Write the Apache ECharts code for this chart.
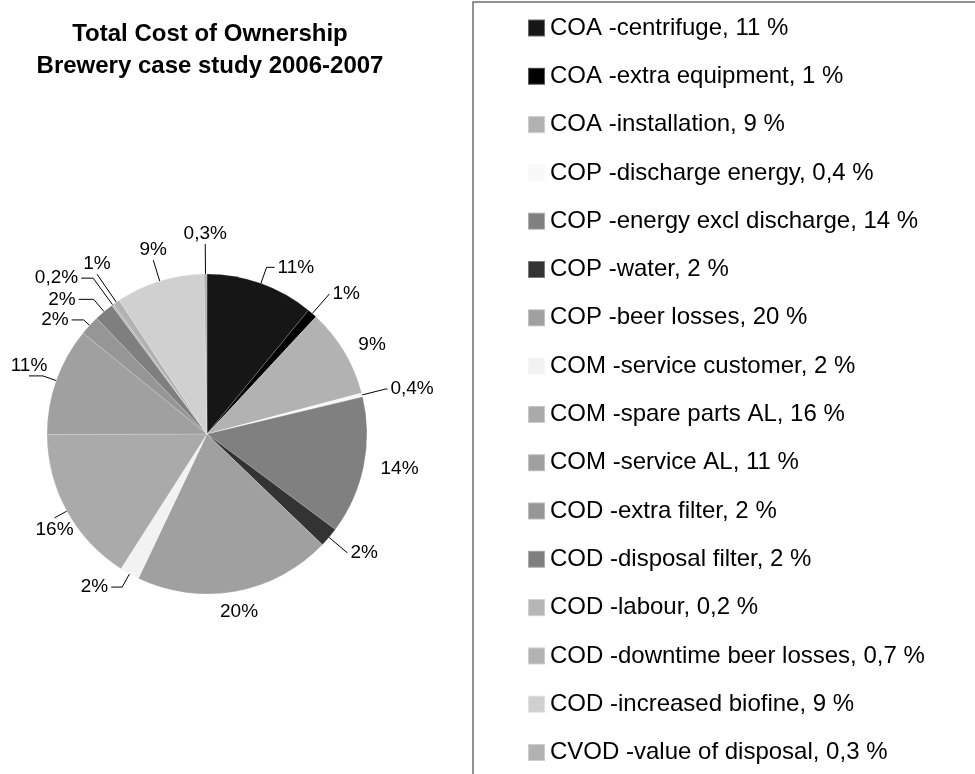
<!DOCTYPE html>
<html>
<head>
<meta charset="utf-8">
<title>Total Cost of Ownership</title>
<script src="https://cdn.jsdelivr.net/npm/echarts@6/dist/echarts.min.js"></script>
<style>
  html, body { margin: 0; padding: 0; background: #fff; }
  #chart { width: 975px; height: 774px; }
</style>
</head>
<body>
<div id="chart"></div>
<script>
// Cost categories and their share of total cost of ownership (%)
const categories = [
  'COA -centrifuge',
  'COA -extra equipment',
  'COA -installation',
  'COP -discharge energy',
  'COP -energy excl discharge',
  'COP -water',
  'COP -beer losses',
  'COM -service customer',
  'COM -spare parts AL',
  'COM -service AL',
  'COD -extra filter',
  'COD -disposal filter',
  'COD -labour',
  'COD -downtime beer losses',
  'COD -increased biofine',
  'CVOD -value of disposal'
];
const shares = [11, 1, 9, 0.4, 14, 2, 20, 2, 16, 11, 2, 2, 0.2, 0.7, 9, 0.3];

const titleLines = ['Total Cost of Ownership', 'Brewery case study 2006-2007'];

// Greyscale fill per slice
const sliceColors = [
  '#161616', '#000000', '#b2b2b2', '#f8f8f8', '#808080', '#333333',
  '#a0a0a0', '#f2f2f2', '#aaaaaa', '#a0a0a0', '#969696', '#7f7f7f',
  '#b6b6b6', '#b2b2b2', '#d0d0d0', '#b2b2b2'
];

// Leader line per slice label: [length, length2, line visible, label placement]
// placement: '' = beside the line end, 'above' / 'below' / 'mid' = centred on it
const leaderStyle = [
  [17, 8, true, ''],
  [26, 0, true, ''],
  [13, 0, false, ''],
  [24, 2, true, ''],
  [10, 4, false, ''],
  [24, 0, true, ''],
  [18, 0, false, 'mid'],
  [15, 11, true, ''],
  [14, 0, true, 'below'],
  [14, 14, true, 'above'],
  [8, 12, true, ''],
  [16, 15, true, ''],
  [33, 12, true, ''],
  [34, 0, true, 'above'],
  [22, 0, true, 'above'],
  [30, 0, true, 'above']
];

const fmtDec = v => String(v).replace('.', ',');
const pieLabel = v => (v < 0.5 ? fmtDec(v) : String(Math.round(v))) + '%';

const shareByName = {};
categories.forEach((c, i) => { shareByName[c] = shares[i]; });

const seriesData = categories.map((name, i) => {
  const [len, len2, showLine] = leaderStyle[i];
  return {
    name,
    value: shares[i],
    itemStyle: { color: sliceColors[i] },
    labelLine: { show: showLine, length: len, length2: len2 }
  };
});

const chart = echarts.init(document.getElementById('chart'), null, { renderer: 'canvas' });

chart.setOption({
  animation: false,
  backgroundColor: '#ffffff',
  title: {
    text: titleLines.join('\n'),
    left: 205,
    top: 13,
    textAlign: 'center',
    textStyle: {
      fontFamily: 'Liberation Sans, Arial, sans-serif',
      fontWeight: 'bold',
      fontSize: 24,
      lineHeight: 32,
      color: '#000'
    }
  },
  graphic: [{
    type: 'rect',
    shape: { x: 473, y: 2, width: 700, height: 900 },
    style: { fill: 'none', stroke: '#6e6e6e', lineWidth: 1.5 },
    silent: true,
    z: -1
  }],
  legend: {
    orient: 'vertical',
    left: 527,
    top: 16,
    padding: 0,
    icon: 'rect',
    itemWidth: 17,
    itemHeight: 17,
    itemGap: 24.3,
    selectedMode: false,
    formatter: name => name + ', ' + fmtDec(shareByName[name]) + ' %',
    textStyle: {
      fontFamily: 'Liberation Sans, Arial, sans-serif',
      fontSize: 24,
      lineHeight: 24,
      color: '#000'
    },
    data: categories
  },
  series: [{
    type: 'pie',
    center: [207, 434],
    radius: 160,
    startAngle: 90,
    clockwise: true,
    avoidLabelOverlap: false,
    itemStyle: { borderColor: 'rgba(255,255,255,0.35)', borderWidth: 0.5 },
    label: {
      show: true,
      position: 'outside',
      overflow: 'none',
      formatter: p => pieLabel(p.value),
      fontFamily: 'Liberation Sans, Arial, sans-serif',
      fontSize: 19,
      color: '#000',
      distanceToLabelLine: 3
    },
    labelLine: {
      show: true,
      length: 10,
      length2: 12,
      lineStyle: { color: '#000', width: 1 }
    },
    labelLayout: p => {
      const place = leaderStyle[p.dataIndex][3];
      if (!place) return {};
      const r = p.labelRect;
      const dx = (p.align === 'right' ? 1 : -1) * (r.width / 2 + 3);
      const dy = place === 'above' ? -r.height / 2 - 1 : place === 'below' ? r.height / 2 + 2 : 3;
      return { dx, dy };
    },
    emphasis: { disabled: true },
    data: seriesData
  }]
});
</script>
</body>
</html>
